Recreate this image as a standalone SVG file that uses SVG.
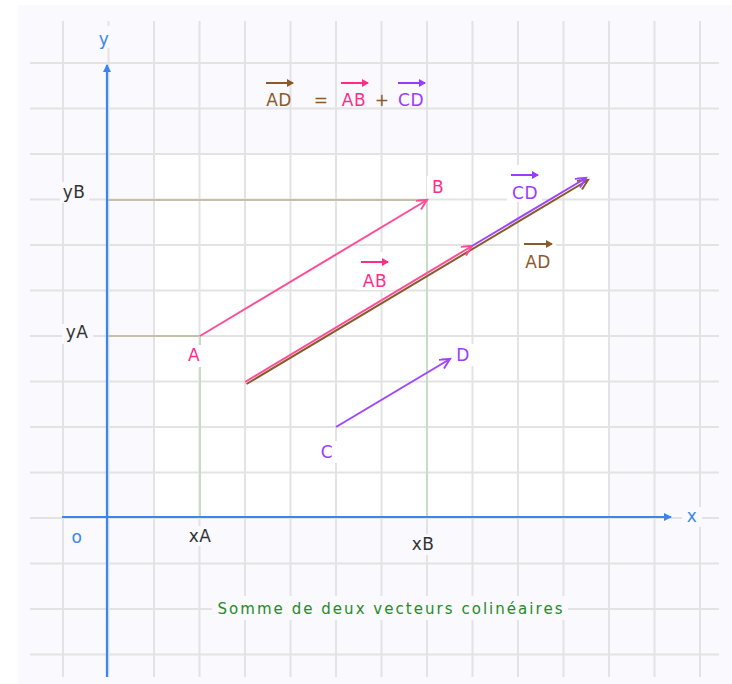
<svg xmlns="http://www.w3.org/2000/svg" width="732" height="684" viewBox="0 0 732 684">
<style>
.grid line{stroke:#e3e3e3;stroke-width:2}
.axis{stroke:#3a86f0;stroke-width:2.2;fill:none}
.olive{stroke:#c3c1a8;stroke-width:2}
.green{stroke:#c8dbc5;stroke-width:2}
.bgL{fill:#f9f9fe}
.bgW{fill:#ffffff}
text{font-family:"DejaVu Sans","Liberation Sans",sans-serif;font-size:17px;text-anchor:middle;letter-spacing:0.5px}
.dark{fill:#333333}
.blue{fill:#3a86f0}
.pink{fill:#ff2d87}
.purple{fill:#9a3cff}
.brown{fill:#8b5a2b}
.cap{fill:#268a26;font-size:15px;letter-spacing:0}
.vAB{stroke:#ff4c96;stroke-width:2;fill:none}
.vCD{stroke:#9d45ff;stroke-width:2;fill:none}
.vAD{stroke:#8b5a2b;stroke-width:2;fill:none}
.ov{stroke-width:2;fill:none}
</style>
<defs>
<marker id="mPink" markerUnits="userSpaceOnUse" markerWidth="14" markerHeight="12" refX="11" refY="5" orient="auto"><path d="M1,0 L11,5 L1,10" fill="none" stroke="#ff4c96" stroke-width="2"/></marker>
<marker id="mPurple" markerUnits="userSpaceOnUse" markerWidth="14" markerHeight="12" refX="11" refY="5" orient="auto"><path d="M1,0 L11,5 L1,10" fill="none" stroke="#9d45ff" stroke-width="2"/></marker>
<marker id="mBrown" markerUnits="userSpaceOnUse" markerWidth="14" markerHeight="12" refX="11" refY="5" orient="auto"><path d="M1,0 L11,5 L1,10" fill="none" stroke="#8b5a2b" stroke-width="2"/></marker>
<marker id="mBlue" markerUnits="userSpaceOnUse" markerWidth="10" markerHeight="10" refX="7" refY="4" orient="auto"><path d="M0,0 L8,4 L0,8 Z" fill="#3a86f0"/></marker>
<marker id="oPink" markerUnits="userSpaceOnUse" markerWidth="8" markerHeight="8" refX="6" refY="4" orient="auto"><path d="M0,0 L7,4 L0,8 Z" fill="#ff2d87"/></marker>
<marker id="oPurple" markerUnits="userSpaceOnUse" markerWidth="8" markerHeight="8" refX="6" refY="4" orient="auto"><path d="M0,0 L7,4 L0,8 Z" fill="#9a3cff"/></marker>
<marker id="oBrown" markerUnits="userSpaceOnUse" markerWidth="8" markerHeight="8" refX="6" refY="4" orient="auto"><path d="M0,0 L7,4 L0,8 Z" fill="#8b5a2b"/></marker>
</defs>
<rect x="0" y="0" width="732" height="684" fill="#ffffff"/>
<rect x="18" y="5" width="714" height="679" class="bgL"/>
<rect x="154" y="155" width="455" height="362" class="bgW"/>
<g class="grid" id="grid">
<line x1="63" y1="21" x2="63" y2="677"/>
<line x1="108.5" y1="21" x2="108.5" y2="677"/>
<line x1="154" y1="21" x2="154" y2="677"/>
<line x1="199.5" y1="21" x2="199.5" y2="677"/>
<line x1="245" y1="21" x2="245" y2="677"/>
<line x1="290.5" y1="21" x2="290.5" y2="677"/>
<line x1="336" y1="21" x2="336" y2="677"/>
<line x1="381.5" y1="21" x2="381.5" y2="677"/>
<line x1="427" y1="21" x2="427" y2="677"/>
<line x1="472.5" y1="21" x2="472.5" y2="677"/>
<line x1="518" y1="21" x2="518" y2="677"/>
<line x1="563.5" y1="21" x2="563.5" y2="677"/>
<line x1="609" y1="21" x2="609" y2="677"/>
<line x1="654.5" y1="21" x2="654.5" y2="677"/>
<line x1="700" y1="21" x2="700" y2="677"/>
<line x1="30" y1="63" x2="719" y2="63"/>
<line x1="30" y1="108.5" x2="719" y2="108.5"/>
<line x1="30" y1="154" x2="719" y2="154"/>
<line x1="30" y1="199.5" x2="719" y2="199.5"/>
<line x1="30" y1="245" x2="719" y2="245"/>
<line x1="30" y1="290.5" x2="719" y2="290.5"/>
<line x1="30" y1="336" x2="719" y2="336"/>
<line x1="30" y1="381.5" x2="719" y2="381.5"/>
<line x1="30" y1="427" x2="719" y2="427"/>
<line x1="30" y1="472.5" x2="719" y2="472.5"/>
<line x1="30" y1="518" x2="719" y2="518"/>
<line x1="30" y1="563.5" x2="719" y2="563.5"/>
<line x1="30" y1="609" x2="719" y2="609"/>
<line x1="30" y1="654.5" x2="719" y2="654.5"/>
</g>
<g id="guides">
<line class="olive" x1="107" y1="200" x2="427" y2="200"/>
<line class="olive" x1="107" y1="336" x2="200" y2="336"/>
<line class="green" x1="200" y1="336" x2="200" y2="517"/>
<line class="green" x1="427" y1="200" x2="427" y2="517"/>
</g>
<g id="axes">
<line class="axis" x1="107" y1="677" x2="107" y2="65" marker-end="url(#mBlue)"/>
<line class="axis" x1="62" y1="517" x2="671" y2="517" marker-end="url(#mBlue)"/>
</g>
<g id="label-bgs">
<rect class="bgL" x="94" y="26" width="20" height="22"/>
<rect class="bgL" x="60" y="182" width="29" height="21"/>
<rect class="bgL" x="62" y="324" width="31" height="20"/>
<rect class="bgL" x="682" y="507" width="20" height="20"/>
<rect class="bgL" x="68" y="528" width="18" height="20"/>
<rect class="bgL" x="185" y="526" width="31" height="20"/>
<rect class="bgL" x="407" y="534" width="32" height="21"/>
<rect class="bgW" x="184" y="345" width="20" height="22"/>
<rect class="bgW" x="427" y="176" width="22" height="22"/>
<rect class="bgW" x="316" y="441" width="22" height="22"/>
<rect class="bgW" x="452" y="344" width="22" height="22"/>
<rect class="bgW" x="356" y="252" width="37" height="38"/>
<rect class="bgW" x="507" y="165" width="35" height="37"/>
<rect class="bgW" x="520" y="235" width="36" height="37"/>
<rect class="bgL" x="212" y="596" width="356" height="24"/>
</g>
<g id="connectors">
<line class="vAB" x1="200" y1="336" x2="427" y2="200" marker-end="url(#mPink)"/>
<line class="vCD" x1="336" y1="427" x2="450" y2="359" marker-end="url(#mPurple)"/>
<line class="vAD" x1="246.5" y1="384" x2="588" y2="180" marker-end="url(#mBrown)"/>
<line class="vAB" x1="245" y1="382" x2="472" y2="246" marker-end="url(#mPink)"/>
<line class="vCD" x1="472" y1="246" x2="586" y2="178" marker-end="url(#mPurple)"/>
</g>
<g id="axis-labels">
<text class="blue" x="104" y="45">y</text>
<text class="blue" x="692" y="522">x</text>
<text class="blue" x="77" y="543">o</text>
<text class="dark" x="74" y="198">yB</text>
<text class="dark" x="77" y="338">yA</text>
<text class="dark" x="200" y="542">xA</text>
<text class="dark" x="423" y="550">xB</text>
</g>
<g id="node-A"><text class="pink" x="194" y="361">A</text></g>
<g id="node-B"><text class="pink" x="438" y="193">B</text></g>
<g id="node-C"><text class="purple" x="327" y="458">C</text></g>
<g id="node-D"><text class="purple" x="463" y="361">D</text></g>
<g id="label-AB">
<line class="ov" stroke="#ff2d87" x1="361" y1="262" x2="388" y2="262" marker-end="url(#oPink)"/>
<text class="pink" x="375" y="287">AB</text>
</g>
<g id="label-CD">
<line class="ov" stroke="#9a3cff" x1="511" y1="175" x2="538" y2="175" marker-end="url(#oPurple)"/>
<text class="purple" x="525" y="199">CD</text>
</g>
<g id="label-AD">
<line class="ov" stroke="#8b5a2b" x1="524" y1="244" x2="552" y2="244" marker-end="url(#oBrown)"/>
<text class="brown" x="538" y="268">AD</text>
</g>
<g id="formula">
<line class="ov" stroke="#8b5a2b" x1="266" y1="83" x2="293" y2="83" marker-end="url(#oBrown)"/>
<text class="brown" x="279" y="106">AD</text>
<text class="brown" x="321" y="106">=</text>
<line class="ov" stroke="#ff2d87" x1="341" y1="83" x2="368" y2="83" marker-end="url(#oPink)"/>
<text class="pink" x="354" y="106">AB</text>
<text class="brown" x="382" y="106">+</text>
<line class="ov" stroke="#9a3cff" x1="398" y1="83" x2="425" y2="83" marker-end="url(#oPurple)"/>
<text class="purple" x="411" y="106">CD</text>
</g>
<g id="caption">
<text class="cap" x="390" y="614" textLength="345" lengthAdjust="spacing">Somme de deux vecteurs colinéaires</text>
</g>
</svg>
